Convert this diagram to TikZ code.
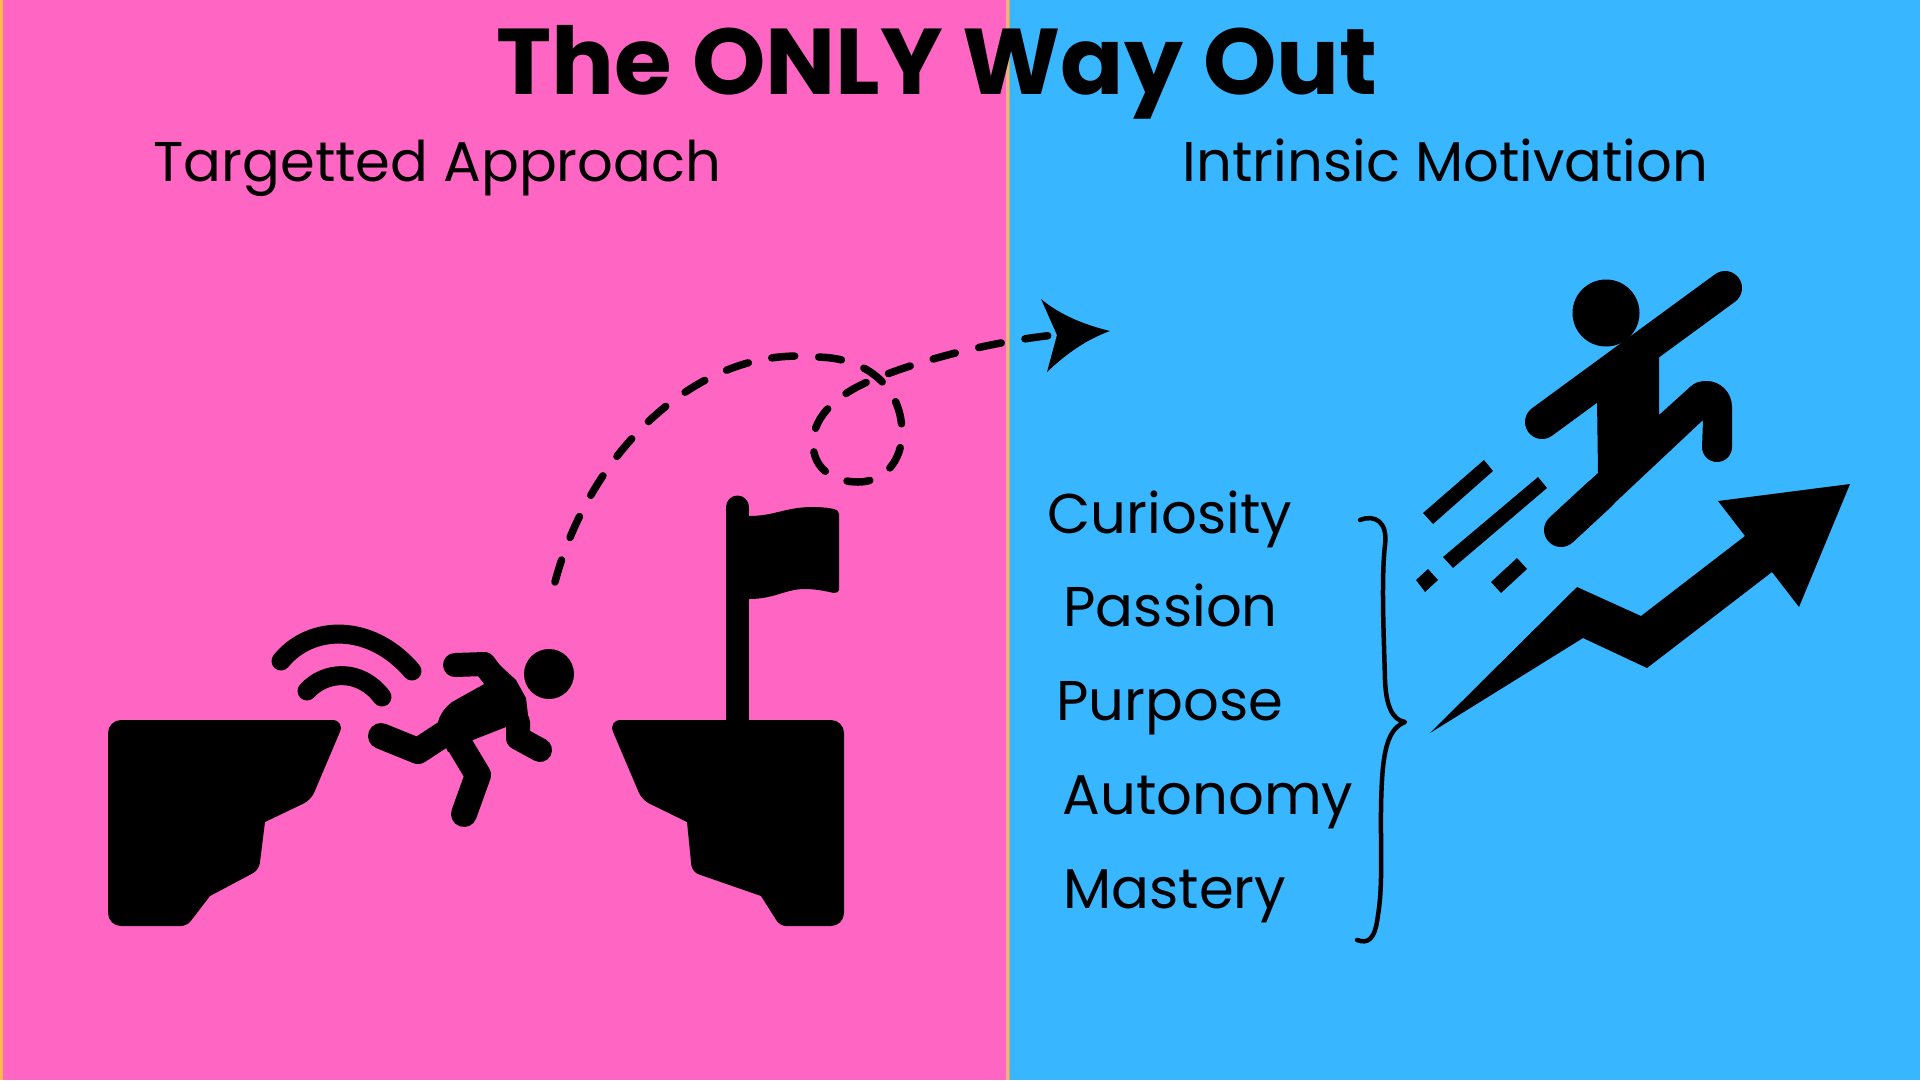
\documentclass[tikz,border=0pt]{standalone}
\usepackage{fontspec}
\setmainfont{Poppins}
\definecolor{pinkside}{HTML}{FF66C4}
\definecolor{blueside}{HTML}{38B6FF}
\definecolor{orangeedge}{HTML}{FFB84D}
\definecolor{tanedge}{HTML}{F0B080}
\definecolor{oliveedge}{HTML}{B8B080}
\tikzset{
  heading/.style={anchor=base west,font=\fontsize{56}{56}\selectfont},
  trait/.style={anchor=base west,font=\fontsize{56}{56}\selectfont},
  limb/.style={line width=#1,line cap=round,line join=round},
  trail/.style={line width=7.5pt,line cap=round,dash pattern=on 23pt off 24pt}
}
\begin{document}
\begin{tikzpicture}[x=1pt,y=-1pt]
\useasboundingbox (0,0) rectangle (1920,1080);
\fill[pinkside] (0,0) rectangle (1008,1080);
\fill[blueside] (1008,0) rectangle (1920,1080);
\fill[orangeedge] (0,0) rectangle (3,1080);
\fill[tanedge] (1006,0) rectangle (1008.5,1080);
\fill[oliveedge] (1008.5,0) rectangle (1010,1080);

\node[anchor=base,font=\fontsize{93.4}{93.4}\selectfont\bfseries] (title) at (937,94) {The ONLY Way Out};
\node[heading] (approach) at (150,181) {Targetted Approach};
\node[heading] (motivation) at (1179,181) {Intrinsic Motivation};
\node[trait] (curiosity) at (1044,533) {Curiosity};
\node[trait] (passion) at (1060,626) {Passion};
\node[trait] (purpose) at (1053,720) {Purpose};
\node[trait] (autonomy) at (1059,814) {Autonomy};
\node[trait] (mastery) at (1060,908) {Mastery};

% left cliff
\fill[rounded corners=13pt] (108,720) -- (345,720) [rounded corners=8pt] -- (311,800) [sharp corners] -- (265,822) [rounded corners=7pt] -- (259,870) [sharp corners] -- (210,896) [rounded corners=6pt] -- (187,926) [rounded corners=13pt] -- (108,926) -- cycle;
% right cliff and flag
\fill[rounded corners=13pt] (844,720) -- (608,720) [rounded corners=8pt] -- (642,800) [sharp corners] -- (687,822) [rounded corners=7pt] -- (692,872) [sharp corners] -- (761,896) [rounded corners=6pt] -- (780,926) [rounded corners=13pt] -- (844,926) -- cycle;
\draw[limb=23pt,line cap=butt] (737.5,507) -- (737.5,725);
\fill (737.5,507) circle (11.5);
\fill (749,516) .. controls (775,516) and (785,507) .. (813,507) .. controls (822,507) and (830,508) .. (834,509)
  .. controls (837,510) and (839,511) .. (839,514) -- (839,590) .. controls (839,592) and (836,593) .. (834,593)
  .. controls (825,591) and (815,589) .. (805,589) .. controls (785,589) and (775,599) .. (749,599) -- cycle;

% falling man
\fill (549,674) circle (25);
\fill (486,683) -- (491,657) -- (516,680) -- (526,698) -- (530,732) -- (506,727) -- (473,740) -- (448,752) -- (437,728) .. controls (438,718) and (442,710) .. (452,702) -- cycle;
\draw[limb=24pt] (455,665) -- (484,664) -- (500,685);
\draw[limb=24pt] (518,722) -- (518,738) -- (540,750);
\draw[limb=26pt] (381,736) -- (418,751) -- (450,730);
\draw[limb=26pt] (460,745) -- (478,775) -- (464,814);
\draw[limb=19pt] (281,661) .. controls (310,625) and (370,622) .. (412,671);
\draw[limb=19pt] (307,691) .. controls (325,671) and (360,668) .. (382,697);

% dashed flight path
\coordinate (trailstart) at (555,582);
\coordinate (trailend) at (1054,335);
\draw[trail] (trailstart) .. controls (590,450) and (700,345) .. (815,357)
  .. controls (870,357) and (902,390) .. (902,433)
  .. controls (902,460) and (885,482) .. (858,482)
  .. controls (835,482) and (813,470) .. (813,443)
  .. controls (813,415) and (840,393) .. (872,380)
  .. controls (920,360) and (990,342) .. (trailend);
\fill (1041,299) .. controls (1060,315) and (1085,325) .. (1110,331)
  .. controls (1085,340) and (1065,355) .. (1047,372) -- (1057,335) -- cycle;

% running man
\fill (1606,313) circle (33.5);
\draw[limb=34pt] (1542,422) -- (1725,288);
\draw[limb=34pt] (1561,530) -- (1600,494);
\fill (1717,447) circle (15);
\fill (1597,400) -- (1598,473) -- (1549,519) -- (1573,542) -- (1703,420) -- (1702,447) -- (1732,447) -- (1732,407)
  .. controls (1732,392) and (1720,381) .. (1707,381) .. controls (1700,381) and (1695,382) .. (1690,387)
  -- (1659,415) -- (1659,357) -- cycle;

% speed bars
\fill (1484,460) -- (1493,471) -- (1433,524) -- (1423,513) -- cycle;
\fill (1538,477) -- (1547,488) -- (1453,568) -- (1443,557) -- cycle;
\fill (1428,569) -- (1438,580) -- (1425,592) -- (1416,580) -- cycle;
\fill (1517,558) -- (1527,569) -- (1501,593) -- (1491,582) -- cycle;

% rising arrow
\fill (1430,733) -- (1577,587) -- (1641,616) -- (1745,536) -- (1718,501) -- (1850,484) -- (1799,607) -- (1772,572) -- (1647,668) -- (1583,638) -- cycle;

% brace
\draw[line width=4.5pt,line cap=round,line join=round] (1360,520) .. controls (1375,514) and (1388,522) .. (1385,545)
  .. controls (1381,580) and (1384,640) .. (1385,680)
  .. controls (1386,705) and (1392,720) .. (1405,722)
  .. controls (1390,728) and (1384,745) .. (1382,780)
  .. controls (1379,830) and (1384,880) .. (1378,915)
  .. controls (1375,940) and (1368,944) .. (1357,940);
\end{tikzpicture}
\end{document}
